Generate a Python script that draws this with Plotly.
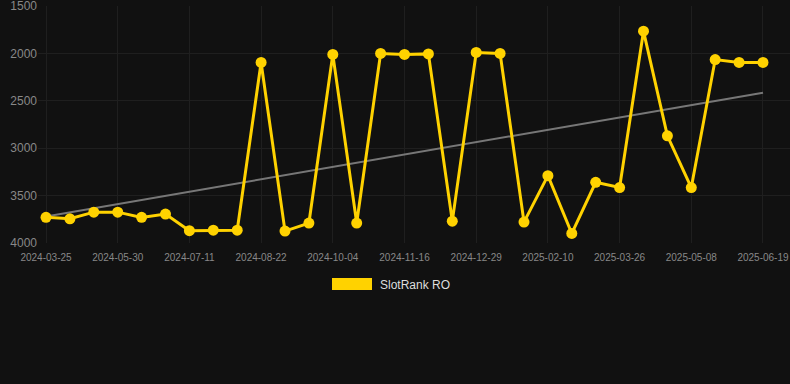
import plotly.graph_objects as go

# Categories (dates of observations)
dates = [
    "2024-03-25", "2024-04-16", "2024-05-08", "2024-05-30", "2024-06-13", "2024-06-27",
    "2024-07-11", "2024-07-25", "2024-08-08", "2024-08-22", "2024-09-05", "2024-09-19",
    "2024-10-04", "2024-10-18", "2024-11-01", "2024-11-16", "2024-11-30", "2024-12-14",
    "2024-12-29", "2025-01-12", "2025-01-26", "2025-02-10", "2025-02-24", "2025-03-11",
    "2025-03-26", "2025-04-09", "2025-04-23", "2025-05-08", "2025-05-22", "2025-06-05",
    "2025-06-19",
]
# SlotRank RO values (rank; lower is better, axis reversed)
ranks = [
    3730, 3745, 3675, 3675, 3730, 3695, 3870, 3865, 3865, 2095, 3875, 3790,
    2010, 3790, 2000, 2010, 2005, 3770, 1990, 2000, 3780, 3290, 3900, 3360,
    3415, 1765, 2870, 3415, 2065, 2095, 2095,
]
# Trend line values at first and last date
trend_values = [3720, 2414]
trend_dates = [dates[0], dates[-1]]

tick_labels = dates[::3]
y_ticks = [1500, 2000, 2500, 3000, 3500, 4000]
series_name = "SlotRank RO"

GOLD = "#FFD200"
BG = "#111111"
GRID = "#1f1f1f"

fig = go.Figure()
fig.add_trace(go.Scatter(
    x=trend_dates, y=trend_values, mode="lines",
    line=dict(color="#777777", width=2), showlegend=False, hoverinfo="skip",
))
fig.add_trace(go.Scatter(
    x=dates, y=ranks, mode="lines+markers", name=series_name,
    line=dict(color=GOLD, width=3),
    marker=dict(color=GOLD, size=11),
    showlegend=False,
))

# legend (manual, wide swatch)
L, R, T, B = 38, 790, 6, 243
W, H = R - L, B - T
def px(x):
    return (x - L) / W
def py(y):
    return (B - y) / H

fig.add_shape(type="rect", xref="paper", yref="paper",
              x0=px(332), x1=px(372), y0=py(290), y1=py(278),
              fillcolor=GOLD, line=dict(width=0))
fig.add_annotation(xref="paper", yref="paper", x=px(378), y=py(284.5),
                   xanchor="left", yanchor="middle", text=series_name,
                   showarrow=False, font=dict(size=12, color="#dddddd"))

fig.update_layout(
    width=790, height=384,
    paper_bgcolor=BG, plot_bgcolor=BG,
    margin=dict(l=L, r=790 - R, t=T, b=384 - B),
    font=dict(family="Liberation Sans, Arial, sans-serif", color="#888888"),
    showlegend=False,
)
fig.update_xaxes(
    type="category", categoryorder="array", categoryarray=dates,
    tickmode="array", tickvals=tick_labels, ticktext=tick_labels,
    range=[-0.335, 31.13],
    showgrid=True, gridcolor=GRID, gridwidth=1,
    zeroline=False, showline=False, ticks="",
    ticklabelstandoff=7, ticklabeloverflow="allow",
    tickfont=dict(size=10, color="#888888"),
)
fig.update_yaxes(
    range=[4000.5, 1499.5], tickvals=y_ticks,
    showgrid=True, gridcolor=GRID, gridwidth=1,
    zeroline=False, showline=False, ticks="",
    ticklabeloverflow="allow",
    tickfont=dict(size=12, color="#888888"),
)

fig.write_html(
    "out.html",
    config={"displayModeBar": False},
    post_script="document.body.style.margin='0';document.body.style.background='#111111';",
)
